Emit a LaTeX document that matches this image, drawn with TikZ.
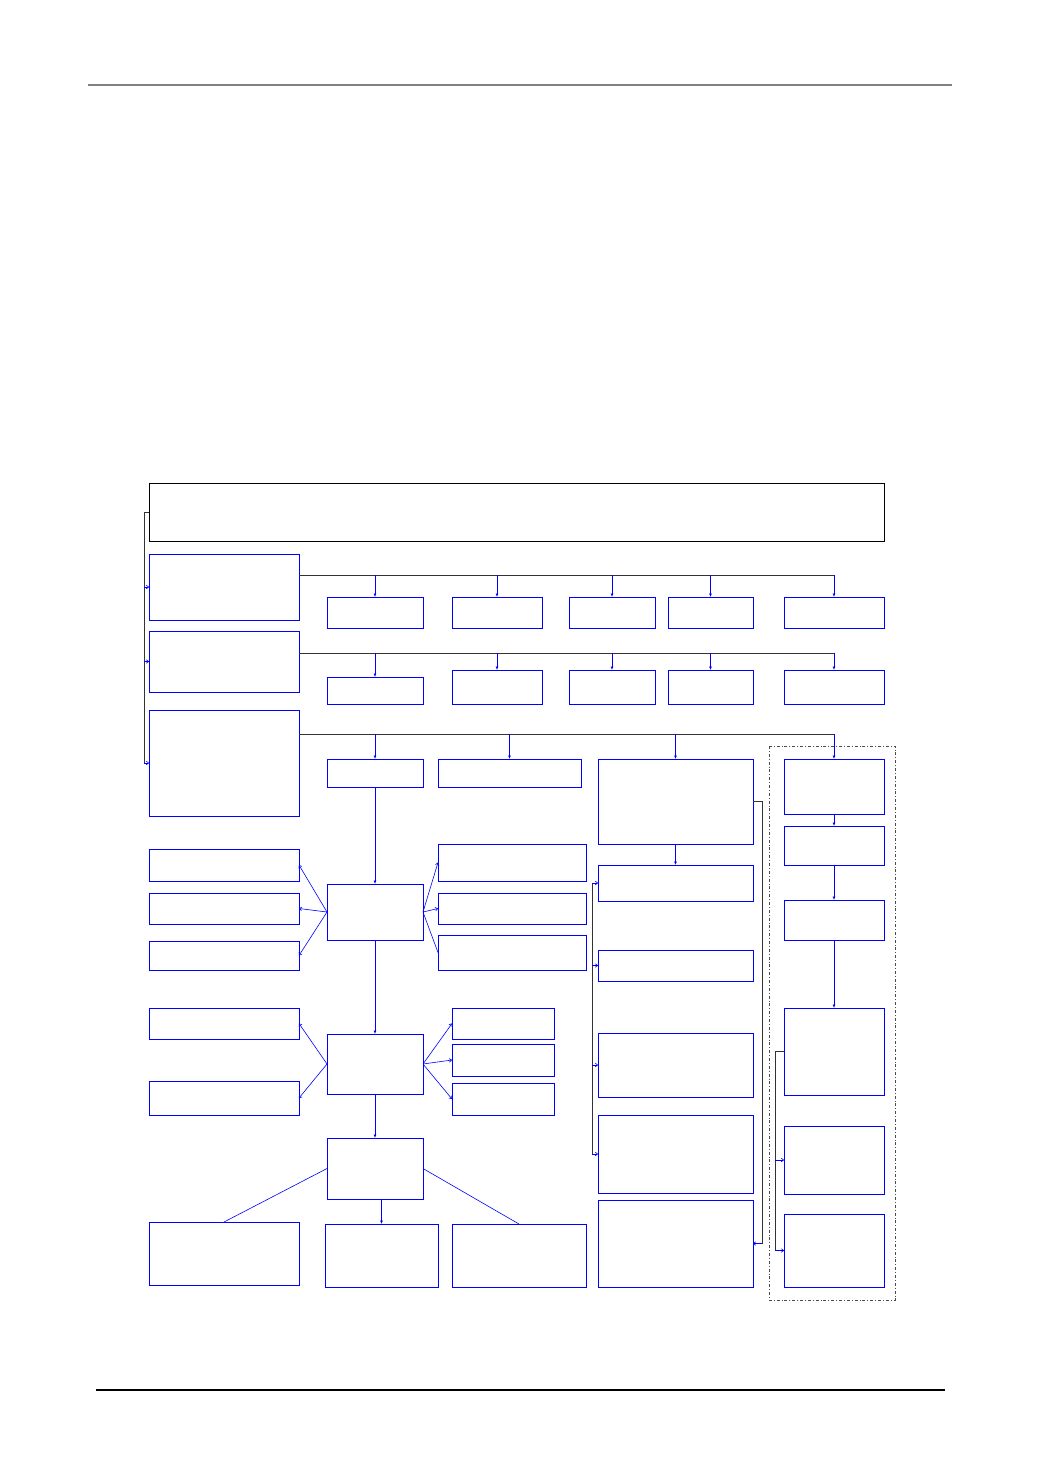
\documentclass[tikz,border=0pt]{standalone}
\usetikzlibrary{arrows.meta}
\newcommand{\boite}[6][boite]{\node[#1, minimum width={(#5-#3)*1pt}, minimum height={(#6-#4)*1pt}] (#2) at ({(#3+#5)/2},{(#4+#6)/2}) {};}
\begin{document}
\begin{tikzpicture}[x=1pt,y=-1pt,
  boite/.style={draw=blue, line width=0.9pt, inner sep=0pt, outer sep=0pt},
  tete/.style={draw=black, line width=0.9pt, inner sep=0pt, outer sep=0pt},
  tronc/.style={draw=black!80, line width=0.9pt},
  chute/.style={draw=blue, line width=0.8pt, -{Latex[length=3.5pt,width=3pt]}},
  fleche/.style={draw=blue, line width=0.6pt, -{To[length=3pt,width=4pt]}},
  trait/.style={draw=blue, line width=0.6pt},
  groupe/.style={draw=black!70, line width=0.8pt, dash dot}]
\useasboundingbox (0,0) rectangle (1040,1473);
\draw[gray, line width=1.3pt] (88,85) -- (952,85);
\draw[black, line width=1.3pt] (96,1390) -- (945,1390);

\boite[tete]{tete}{149}{483}{884}{541}
\boite{L1}{149}{554}{299}{620}
\boite{L2}{149}{631}{299}{692}
\boite{L3}{149}{710}{299}{816}

\boite{A1}{327}{597}{423}{628}
\boite{A2}{452}{597}{542}{628}
\boite{A3}{569}{597}{655}{628}
\boite{A4}{668}{597}{753}{628}
\boite{A5}{784}{597}{884}{628}

\boite{B1}{327}{677}{423}{704}
\boite{B2}{452}{670}{542}{704}
\boite{B3}{569}{670}{655}{704}
\boite{B4}{668}{670}{753}{704}
\boite{B5}{784}{670}{884}{704}

\boite{C1}{327}{759}{423}{787}
\boite{C2}{438}{759}{581}{787}
\boite{C3}{598}{759}{753}{844}

\boite{D1}{784}{759}{884}{814}
\boite{D2}{784}{826}{884}{865}
\boite{D3}{784}{900}{884}{940}
\boite{D4}{784}{1008}{884}{1095}
\boite{D5}{784}{1126}{884}{1194}
\boite{D6}{784}{1214}{884}{1287}
\draw[groupe] (769,746) rectangle (895,1300);

\boite{E1}{598}{865}{753}{901}
\boite{E2}{598}{950}{753}{981}
\boite{E3}{598}{1033}{753}{1097}
\boite{E4}{598}{1115}{753}{1193}
\boite{E5}{598}{1200}{753}{1287}

\boite{M1}{327}{884}{423}{940}
\boite{P1}{149}{849}{299}{881}
\boite{P2}{149}{893}{299}{924}
\boite{P3}{149}{941}{299}{970}
\boite{Q1}{438}{844}{586}{881}
\boite{Q2}{438}{893}{586}{924}
\boite{Q3}{438}{935}{586}{970}

\boite{M2}{327}{1034}{423}{1094}
\boite{R1}{149}{1008}{299}{1039}
\boite{R2}{149}{1081}{299}{1115}
\boite{S1}{452}{1008}{554}{1039}
\boite{S2}{452}{1044}{554}{1076}
\boite{S3}{452}{1083}{554}{1115}

\boite{M3}{327}{1138}{423}{1199}
\boite{T1}{149}{1222}{299}{1285}
\boite{T2}{325}{1224}{438}{1287}
\boite{T3}{452}{1224}{586}{1287}

\draw[tronc] (tete.west) -- ++(-5,0) coordinate (lb) -- (lb |- L3.west);
\foreach \n in {L1,L2,L3} \draw[fleche] (lb |- \n.west) -- (\n.west);

\coordinate (r1) at (299,575);
\coordinate (r2) at (299,653);
\coordinate (r3) at (299,734);
\draw[tronc] (r1) -- (r1 -| A5.north);
\draw[tronc] (r2) -- (r2 -| B5.north);
\draw[tronc] (r3) -- (r3 -| D1.north);
\foreach \n in {A1,A2,A3,A4,A5} \draw[chute] (r1 -| \n.north) -- (\n.north);
\foreach \n in {B1,B2,B3,B4,B5} \draw[chute] (r2 -| \n.north) -- (\n.north);
\foreach \n in {C1,C2,C3,D1} \draw[chute] (r3 -| \n.north) -- (\n.north);

\draw[chute] (D1) -- (D2);
\draw[chute] (D2) -- (D3);
\draw[chute] (D3) -- (D4);
\draw[tronc] (D4.west) -- ++(-9,0) coordinate (db) -- (db |- D6.west);
\foreach \n in {D5,D6} \draw[fleche] (db |- \n.west) -- (\n.west);

\draw[chute] (C3) -- (E1);
\coordinate (eb) at (592,883);
\draw[tronc] (eb) -- (eb |- E4.west);
\foreach \n in {E1,E2,E3,E4} \draw[fleche] (eb |- \n.west) -- (\n.west);
\draw[tronc] (C3.east) -- ++(9,0) coordinate (cb) -- (cb |- E5.east);
\draw[fleche] (cb |- E5.east) -- (E5.east);

\draw[chute] (C1) -- (M1);
\foreach \n in {P1,P2,P3} \draw[fleche] (M1.west) -- (\n.east);
\foreach \n in {Q1,Q2} \draw[fleche] (M1.east) -- (\n.west);
\draw[trait] (M1.east) -- (Q3.west);

\draw[chute] (M1) -- (M2);
\foreach \n in {R1,R2} \draw[fleche] (M2.west) -- (\n.east);
\foreach \n in {S1,S2,S3} \draw[fleche] (M2.east) -- (\n.west);

\draw[chute] (M2) -- (M3);
\draw[trait] (M3.west) -- (T1.north);
\draw[chute] (T2.north |- M3.south) -- (T2.north);
\draw[trait] (M3.east) -- (T3.north);
\end{tikzpicture}
\end{document}
